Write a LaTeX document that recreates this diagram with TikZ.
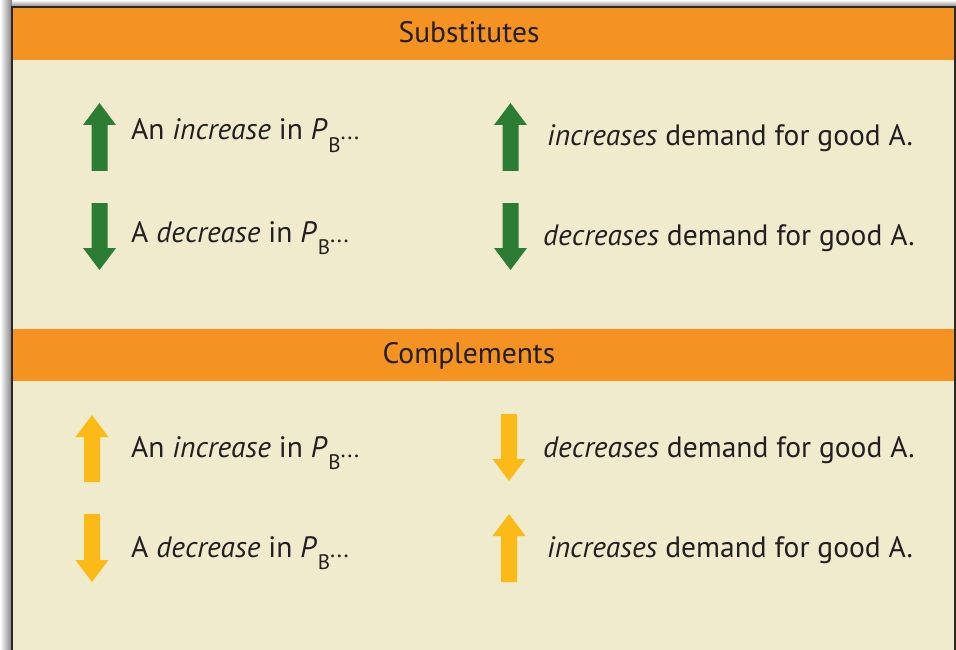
\documentclass[tikz,border=0pt]{standalone}
\usepackage{fontspec}
\setmainfont{PT Sans}
\definecolor{barorange}{RGB}{244,146,34}
\definecolor{paneltan}{RGB}{240,235,204}
\definecolor{arrgreen}{RGB}{44,124,52}
\definecolor{arryellow}{RGB}{252,186,22}
\definecolor{txtdark}{RGB}{35,31,32}
\definecolor{framedark}{RGB}{40,40,40}
\newcommand{\PsubB}{\textit{P}\kern1pt\raisebox{-12.5pt}{\fontsize{21}{22}\selectfont B}{\fontsize{24}{24}\selectfont...}}
\begin{document}
\begin{tikzpicture}[x=1pt,y=-1pt,
  lbl/.style={anchor=base west,inner sep=0pt,text=txtdark,font=\fontsize{29.5}{32}\selectfont},
  hdr/.style={anchor=base,inner sep=0pt,text=txtdark,font=\fontsize{29.5}{32}\selectfont},
  green/.style={fill=arrgreen},
  yellow/.style={fill=arryellow}]
\useasboundingbox (0,0) rectangle (956,650);
% shadow
\shade[left color=white,right color=black!50] (0,0) rectangle (12,650);
\shade[top color=white,bottom color=black!50] (12,0) rectangle (956,7);
% panel
\fill[paneltan] (12,7) rectangle (956,650);
\fill[barorange] (13,8) rectangle (955,60);
\fill[barorange] (13,329) rectangle (955,381);
\draw[framedark,line width=1.8pt] (12,650) -- (12,7) -- (955,7) -- (955,650);
% headers
\node[hdr] (hs) at (469,43) {Substitutes};
\node[hdr] (hc) at (469,363) {Complements};
% arrows: up(x,top,bottom), down
\newcommand{\uparr}[4]{\fill[#1] (#2,#3) -- (#2+16.5,#3+22) -- (#2+8,#3+22) -- (#2+8,#4) -- (#2-8,#4) -- (#2-8,#3+22) -- (#2-16.5,#3+22) -- cycle;}
\newcommand{\downarr}[4]{\fill[#1] (#2,#4) -- (#2+16.5,#4-22) -- (#2+8,#4-22) -- (#2+8,#3) -- (#2-8,#3) -- (#2-8,#4-22) -- (#2-16.5,#4-22) -- cycle;}
\uparr{green}{99.5}{103}{171}
\downarr{green}{99.5}{203}{270}
\uparr{green}{510.5}{103}{171}
\downarr{green}{510.5}{203}{270}
\uparr{yellow}{92}{415}{482}
\downarr{yellow}{92}{514}{582}
\downarr{yellow}{509}{414}{481}
\uparr{yellow}{509}{514}{582}
% labels
\node[lbl] (s1) at (131,140) {An \textit{increase} in \PsubB};
\node[lbl] (s2) at (131,242) {A \textit{decrease} in \PsubB};
\node[lbl] (s3) at (547,146) {\textit{increases} demand for good A.};
\node[lbl] (s4) at (543,245) {\textit{decreases} demand for good A.};
\node[lbl] (c1) at (131,457) {An \textit{increase} in \PsubB};
\node[lbl] (c2) at (131,557) {A \textit{decrease} in \PsubB};
\node[lbl] (c3) at (543,457) {\textit{decreases} demand for good A.};
\node[lbl] (c4) at (547,557) {\textit{increases} demand for good A.};
\end{tikzpicture}
\end{document}
